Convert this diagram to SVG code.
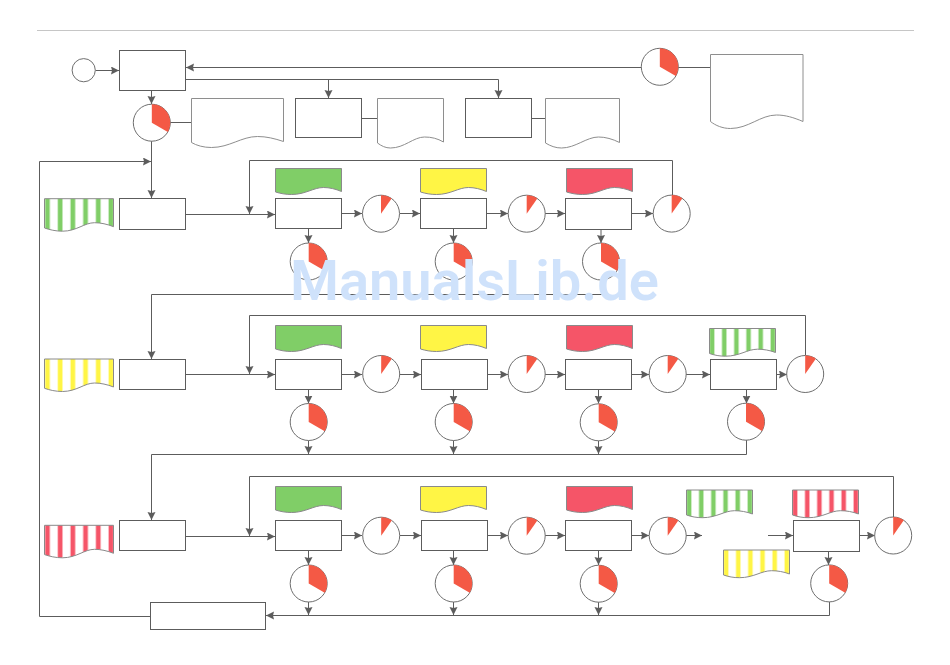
<svg xmlns="http://www.w3.org/2000/svg" width="950" height="665" viewBox="0 0 950 665">
<style>
.c{fill:none;stroke:#5c5c5c;stroke-width:1}
.a{marker-end:url(#arrow)}
.box{fill:#fff;stroke:#5c5c5c;stroke-width:1}
.doc{fill:#fff;stroke:#8e8e8e;stroke-width:1}
.tag{stroke:#8a8a8a;stroke-width:1}
.ring{fill:#fff;stroke:#6e6e6e;stroke-width:1}
.wedge{fill:#f45945}
.wm{font-family:Roboto,"Liberation Sans",sans-serif;font-weight:600;font-size:56px;fill:#cfe2fb}
</style>
<defs>
<marker id="arrow" markerUnits="userSpaceOnUse" markerWidth="9" markerHeight="9" refX="8" refY="4" orient="auto"><path d="M0 0L8 4L0 8L1 4Z" fill="#5c5c5c"/></marker>
<pattern id="sg1" patternUnits="userSpaceOnUse" width="12.7" height="40" x="-9.8"><rect width="12.7" height="40" fill="#fff"/><rect x="10.4" width="2.3" height="40" fill="#80ce67"/><rect x="0" width="2.4" height="40" fill="#80ce67"/></pattern>
<pattern id="sy1" patternUnits="userSpaceOnUse" width="12.7" height="40" x="-9.8"><rect width="12.7" height="40" fill="#fff"/><rect x="10.4" width="2.3" height="40" fill="#fff545"/><rect x="0" width="2.4" height="40" fill="#fff545"/></pattern>
<pattern id="sr1" patternUnits="userSpaceOnUse" width="12.7" height="40" x="-9.8"><rect width="12.7" height="40" fill="#fff"/><rect x="10.4" width="2.3" height="40" fill="#f55568"/><rect x="0" width="2.4" height="40" fill="#f55568"/></pattern>
<pattern id="sg2" patternUnits="userSpaceOnUse" width="12.15" height="40" x="-9.55"><rect width="12.15" height="40" fill="#fff"/><rect x="9.9" width="2.25" height="40" fill="#80ce67"/><rect x="0" width="2.25" height="40" fill="#80ce67"/></pattern>
<pattern id="sy2" patternUnits="userSpaceOnUse" width="12.15" height="40" x="-9.55"><rect width="12.15" height="40" fill="#fff"/><rect x="9.9" width="2.25" height="40" fill="#fff545"/><rect x="0" width="2.25" height="40" fill="#fff545"/></pattern>
<pattern id="sr2" patternUnits="userSpaceOnUse" width="12.15" height="40" x="-9.55"><rect width="12.15" height="40" fill="#fff"/><rect x="9.9" width="2.25" height="40" fill="#f55568"/><rect x="0" width="2.25" height="40" fill="#f55568"/></pattern>
<path id="tag" d="M0 0H66V23C60 20.500 54 19 48 19C38 19 30 26 16 26C10 26 5 25 0 23.500Z"/>
<path id="tagS" d="M0 0H66V24C60 21.700 54 20.700 48 20.700C38 20.700 30 27.700 16 27.700C10 27.700 5 26.700 0 25Z"/>
<path id="tagL" d="M0 0H69V28C63 25.500 56 24 50 24C40 24 32 32.500 18 32.500C11 32.500 5 31 0 29.300Z"/>
<g id="pieL"><circle class="ring" r="18.500"/><path class="wedge" d="M0 0V-18.500A18.500 18.500 0 0 1 16 9.250Z"/></g>
<g id="pieS"><circle class="ring" r="18.500"/><path class="wedge" d="M0 0V-18.500A18.500 18.500 0 0 1 10.600 -15.200Z"/></g>
</defs>
<rect width="950" height="665" fill="#fff"/>
<path d="M37 30.500H914" fill="none" stroke="#c6c6c6" stroke-width="1"/>
<g id="connectors">
<path class="c a" d="M95.500 70.500H119"/>
<path class="c a" d="M641 67.500H186"/>
<path class="c a" d="M186 79.500H498.500V98"/>
<path class="c a" d="M328.500 79.500V98"/>
<path class="c a" d="M151.500 90.500V104"/>
<path class="c a" d="M151.500 141V198"/>
<path class="c" d="M170 122.500H191M362 118.500H377M532 118.500H545M678 67.500H711"/>
<path class="c a" d="M150 616.500H39.500V161.500H151"/>
<path class="c a" d="M186 214.500H275"/>
<path class="c a" d="M672.500 195V160.500H249.500V214"/>
<path class="c a" d="M342 213.500H362"/><path class="c a" d="M400 213.500H420"/><path class="c a" d="M487 213.500H508"/><path class="c a" d="M545 213.500H565"/><path class="c a" d="M632 213.500H653"/>
<path class="c a" d="M308.500 228.500V243"/><path class="c a" d="M453.500 228.500V243"/><path class="c a" d="M601 229.500V243"/>
<path class="c a" d="M602.500 280V294.500H151.500V359"/>
<path class="c a" d="M186 374.500H275"/>
<path class="c a" d="M805.500 355V315.500H249.500V374"/>
<path class="c a" d="M342 374.500H362"/><path class="c a" d="M400 374.500H421"/><path class="c a" d="M488 374.500H508"/><path class="c a" d="M545 374.500H565"/><path class="c a" d="M632 374.500H649"/><path class="c a" d="M686 374.500H710"/><path class="c a" d="M777 374.500H787"/>
<path class="c a" d="M308.500 389.500V403.500"/><path class="c a" d="M453.500 389.500V403.500"/><path class="c a" d="M598.500 389.500V403.500"/><path class="c a" d="M746.500 389.500V403.500"/>
<path class="c a" d="M308.500 440.500V454"/><path class="c a" d="M453.500 440.500V454"/><path class="c a" d="M598.500 440.500V454"/>
<path class="c a" d="M746.500 440V454.500H151.500V520"/>
<path class="c a" d="M186 536.500H275"/>
<path class="c a" d="M893.500 517V476.500H249.500V536"/>
<path class="c a" d="M342 535.500H362"/><path class="c a" d="M400 535.500H421"/><path class="c a" d="M488 535.500H508"/><path class="c a" d="M545 535.500H565"/><path class="c a" d="M632 535.500H649"/><path class="c a" d="M686 535.500H702"/><path class="c a" d="M768 535.500H793"/><path class="c a" d="M860 535.500H875"/>
<path class="c a" d="M308.500 550.500V565"/><path class="c a" d="M453.500 550.500V565"/><path class="c a" d="M598.500 550.500V565"/><path class="c a" d="M828.500 551.500V565"/>
<path class="c a" d="M308.500 602V615"/><path class="c a" d="M453.500 602V615"/><path class="c a" d="M598.500 602V615"/>
<path class="c a" d="M829.500 602V615.500H266"/>
</g>
<g id="start"><circle class="ring" cx="83.700" cy="70.200" r="11.600"/></g>
<g id="box-a"><rect class="box" x="119.500" y="50.500" width="66" height="40"/></g>
<g id="pie-1"><use href="#pieL" x="151.800" y="122.700"/></g>
<g id="doc-1"><path class="doc" transform="translate(191.500 98.500)" d="M0 0H92V43C83 40 75 38 66 38C50 38 38 49 20 49C12 49 5 47 0 44Z"/></g>
<g id="box-b"><rect class="box" x="295.500" y="98.500" width="66" height="39"/></g>
<g id="doc-2"><path class="doc" transform="translate(377.500 98.500)" d="M0 0H66V43.500C60 40 54 38.500 47 38.500C36 38.500 27 49.500 13 49.500C8 49.500 4 47.500 0 44.500Z"/></g>
<g id="box-c"><rect class="box" x="465.500" y="98.500" width="66" height="39"/></g>
<g id="doc-3"><path class="doc" transform="translate(545.500 98.500)" d="M0 0H74V44C67 40.500 60 38.500 53 38.500C41 38.500 30 49.500 16 49.500C10 49.500 5 47.500 0 44.500Z"/></g>
<g id="pie-top"><use href="#pieL" x="659.800" y="66.800"/></g>
<g id="doc-4"><path class="doc" transform="translate(710.500 54.500)" d="M0 0H92.500V67C83 63 75 60.500 66 60.500C50 60.500 38 74 20 74C12 74 5 71 0 67Z"/></g>

<g id="tag-s-green"><use href="#tagL" x="44.500" y="198.700" fill="url(#sg1)" class="tag"/></g>
<g id="row1-start"><rect class="box" x="119.500" y="198.500" width="66" height="31"/></g>
<g id="r1-tag1"><use href="#tag" x="275.500" y="168.500" fill="#80ce67" class="tag"/></g>
<g id="r1-box1"><rect class="box" x="275.500" y="198.500" width="66" height="30"/></g>
<g id="r1-s1"><use href="#pieS" x="381" y="213.700"/></g>
<g id="r1-p1"><use href="#pieL" x="308.700" y="261.500"/></g>
<g id="r1-tag2"><use href="#tag" x="420.500" y="168.500" fill="#fff545" class="tag"/></g>
<g id="r1-box2"><rect class="box" x="420.500" y="198.500" width="66" height="30"/></g>
<g id="r1-s2"><use href="#pieS" x="526.700" y="213.700"/></g>
<g id="r1-p2"><use href="#pieL" x="453.700" y="261.500"/></g>
<g id="r1-tag3"><use href="#tag" x="566.500" y="168.500" fill="#f55568" class="tag"/></g>
<g id="r1-box3"><rect class="box" x="565.500" y="198.500" width="66" height="31"/></g>
<g id="r1-s3"><use href="#pieS" x="671.700" y="213.600"/></g>
<g id="r1-p3"><use href="#pieL" x="601" y="261.500"/></g>

<g id="tag-s-yellow"><use href="#tagL" x="44.500" y="359" fill="url(#sy1)" class="tag"/></g>
<g id="row2-start"><rect class="box" x="119.500" y="359.500" width="66" height="30"/></g>
<g id="r2-tag1"><use href="#tag" x="275.500" y="325.500" fill="#80ce67" class="tag"/></g>
<g id="r2-box1"><rect class="box" x="275.500" y="359.500" width="66" height="30"/></g>
<g id="r2-s1"><use href="#pieS" x="381.200" y="374"/></g>
<g id="r2-p1"><use href="#pieL" x="308.700" y="422"/></g>
<g id="r2-tag2"><use href="#tag" x="420.500" y="325.500" fill="#fff545" class="tag"/></g>
<g id="r2-box2"><rect class="box" x="421.500" y="359.500" width="66" height="30"/></g>
<g id="r2-s2"><use href="#pieS" x="526.700" y="374"/></g>
<g id="r2-p2"><use href="#pieL" x="453.700" y="422"/></g>
<g id="r2-tag3"><use href="#tag" x="566.500" y="325.500" fill="#f55568" class="tag"/></g>
<g id="r2-box3"><rect class="box" x="565.500" y="359.500" width="66" height="30"/></g>
<g id="r2-s3"><use href="#pieS" x="667.700" y="374"/></g>
<g id="r2-p3"><use href="#pieL" x="598.700" y="422.300"/></g>
<g id="r2-tag4"><use href="#tagS" x="709.500" y="328.500" fill="url(#sg2)" class="tag"/></g>
<g id="r2-box4"><rect class="box" x="710.500" y="359.500" width="66" height="30"/></g>
<g id="r2-p4"><use href="#pieL" x="746" y="421.700"/></g>
<g id="r2-s4"><use href="#pieS" x="805.200" y="374"/></g>

<g id="tag-s-red"><use href="#tagL" x="44.500" y="525.300" fill="url(#sr1)" class="tag"/></g>
<g id="row3-start"><rect class="box" x="119.500" y="520.500" width="66" height="30"/></g>
<g id="r3-tag1"><use href="#tag" x="275.500" y="486.500" fill="#80ce67" class="tag"/></g>
<g id="r3-box1"><rect class="box" x="275.500" y="520.500" width="66" height="30"/></g>
<g id="r3-s1"><use href="#pieS" x="381.200" y="535.700"/></g>
<g id="r3-p1"><use href="#pieL" x="308.700" y="583.500"/></g>
<g id="r3-tag2"><use href="#tag" x="420.500" y="486.500" fill="#fff545" class="tag"/></g>
<g id="r3-box2"><rect class="box" x="421.500" y="520.500" width="66" height="30"/></g>
<g id="r3-s2"><use href="#pieS" x="526.700" y="535.700"/></g>
<g id="r3-p2"><use href="#pieL" x="453.700" y="583.500"/></g>
<g id="r3-tag3"><use href="#tag" x="566.500" y="486.500" fill="#f55568" class="tag"/></g>
<g id="r3-box3"><rect class="box" x="565.500" y="520.500" width="66" height="30"/></g>
<g id="r3-s3"><use href="#pieS" x="667.700" y="535.700"/></g>
<g id="r3-p3"><use href="#pieL" x="598.700" y="583.700"/></g>
<g id="r3-tag4"><use href="#tagS" x="686.500" y="490" fill="url(#sg2)" class="tag"/></g>
<g id="r3-tag5"><use href="#tagS" x="723.500" y="550" fill="url(#sy2)" class="tag"/></g>
<g id="r3-tag6"><use href="#tagS" x="792.500" y="490" fill="url(#sr2)" class="tag"/></g>
<g id="r3-box4"><rect class="box" x="793.500" y="520.500" width="66" height="31"/></g>
<g id="r3-p4"><use href="#pieL" x="829.200" y="583.400"/></g>
<g id="r3-s4"><use href="#pieS" x="893.200" y="535.500"/></g>
<g id="end-box"><rect class="box" x="150.500" y="602.500" width="115" height="27"/></g>
<text class="wm" x="290" y="299.500">ManualsLib.de</text>
</svg>
